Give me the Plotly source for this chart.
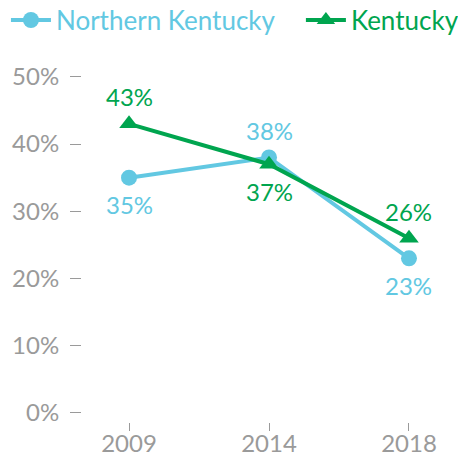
import plotly.graph_objects as go

years = ["2009", "2014", "2018"]
northern_ky = [35, 38, 23]
kentucky = [43, 37, 26]
nk_label_dir = [-1, 1, -1]   # -1 below, +1 above
ky_label_dir = [1, -1, 1]
y_ticks = [0, 10, 20, 30, 40, 50]

BLUE = "#62C8E2"
GREEN = "#00A54F"
GRAY = "#9A9A9A"
FONT = "Lato"
FS = 24

fig = go.Figure()
fig.add_trace(go.Scatter(
    x=years, y=northern_ky, name=f"<span style='color:{BLUE}'>Northern Kentucky</span>",
    mode="lines+markers", legend="legend",
    line=dict(color=BLUE, width=4), marker=dict(symbol="circle", size=16, color=BLUE),
    cliponaxis=False))
fig.add_trace(go.Scatter(
    x=years, y=kentucky, name=f"<span style='color:{GREEN}'>Kentucky</span>",
    mode="lines+markers", legend="legend2",
    line=dict(color=GREEN, width=4), marker=dict(symbol="triangle-up", size=17, color=GREEN),
    cliponaxis=False))

for vals, dirs, col in [(northern_ky, nk_label_dir, BLUE), (kentucky, ky_label_dir, GREEN)]:
    for i, (v, d) in enumerate(zip(vals, dirs)):
        fig.add_annotation(x=i, y=v, text=f"{v}%", showarrow=False, yshift=27 * d,
                           font=dict(color=col, size=FS, family=FONT))

leg_common = dict(yref="container", y=0.956, yanchor="middle", xref="container",
                  xanchor="left", font=dict(size=26), bgcolor="rgba(0,0,0,0)",
                  itemwidth=40)
fig.update_layout(
    width=458, height=457,
    margin=dict(l=82, r=8, t=60, b=35, autoexpand=False),
    paper_bgcolor="white", plot_bgcolor="white",
    font=dict(family=FONT, color=GRAY, size=FS),
    showlegend=True,
    legend=dict(x=0.013, **leg_common),
    legend2=dict(x=0.657, **leg_common),
    xaxis=dict(type="category", range=[-0.336, 2.293], showgrid=False, zeroline=False,
               showline=False, ticks="outside", ticklen=8, tickcolor=GRAY, tickwidth=1,
               tickfont=dict(size=FS, color=GRAY), tickangle=0, ticklabelstandoff=-8),
    yaxis=dict(range=[-1.34, 52.5], tickvals=y_ticks, ticktext=[f"{v}%" for v in y_ticks],
               showgrid=False, zeroline=False, showline=False, ticks="outside", ticklen=11,
               tickcolor=GRAY, tickwidth=1, ticklabelstandoff=6,
               tickfont=dict(size=FS, color=GRAY)),
)
fig.write_html("out.html", config={"displayModeBar": False},
               post_script="document.body.style.margin='0';")
